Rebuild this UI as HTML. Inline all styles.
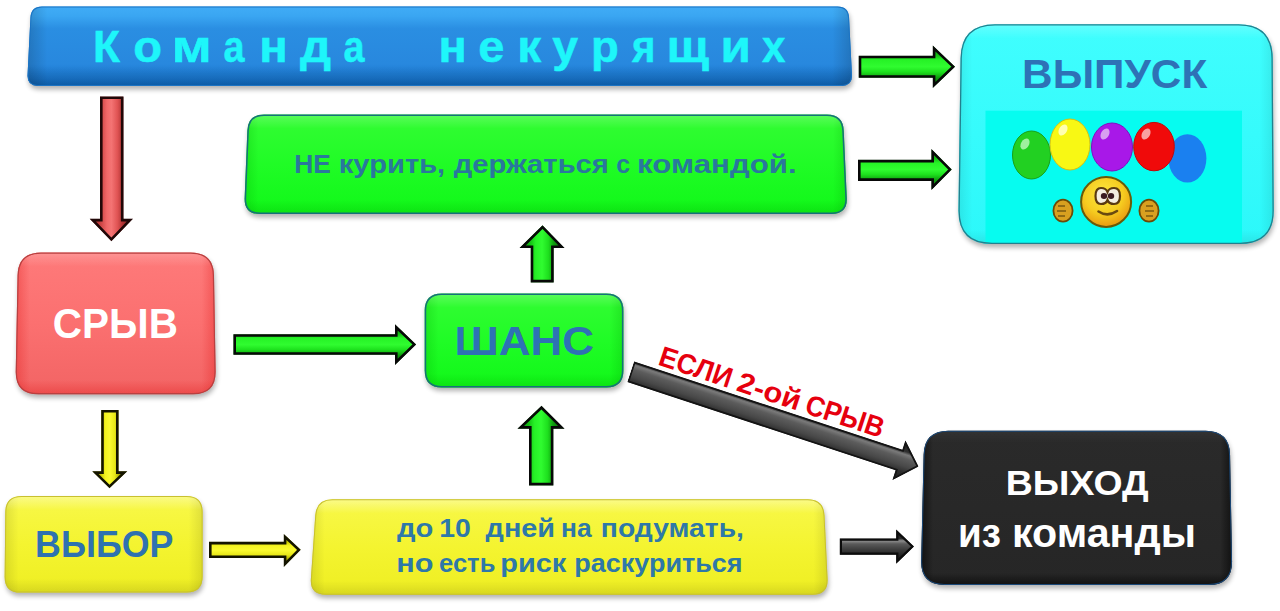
<!DOCTYPE html>
<html><head><meta charset="utf-8">
<style>
html,body{margin:0;padding:0;background:#fff;}
body{width:1280px;height:611px;overflow:hidden;position:relative;font-family:"Liberation Sans",sans-serif;}
svg{position:absolute;left:0;top:0;display:block;}
text{font-family:"Liberation Sans",sans-serif;font-weight:bold;}
</style></head><body>
<svg width="1280" height="611" viewBox="0 0 1280 611">
<defs>
  <filter id="blur3" x="-10%" y="-20%" width="120%" height="140%"><feGaussianBlur stdDeviation="2.5"/></filter>
  <filter id="blur1" x="-10%" y="-10%" width="120%" height="120%"><feGaussianBlur stdDeviation="0.6"/></filter>
  <linearGradient id="gBlue" x1="0" y1="0" x2="0" y2="1">
    <stop offset="0" stop-color="#40acf6"/>
    <stop offset="0.12" stop-color="#3aa6f2"/>
    <stop offset="0.28" stop-color="#2a8ee2"/>
    <stop offset="0.72" stop-color="#2888de"/>
    <stop offset="0.9" stop-color="#1a78d0"/>
    <stop offset="1" stop-color="#0e6cc4"/>
  </linearGradient>
  <linearGradient id="gGreenBox" x1="0" y1="0" x2="0" y2="1">
    <stop offset="0" stop-color="#34fc34"/>
    <stop offset="0.5" stop-color="#20fc26"/>
    <stop offset="1" stop-color="#10f818"/>
  </linearGradient>
  <linearGradient id="gCyan" x1="0" y1="0" x2="0" y2="1">
    <stop offset="0" stop-color="#40fefe"/>
    <stop offset="1" stop-color="#2cf8fa"/>
  </linearGradient>
  <linearGradient id="gRed" x1="0" y1="0" x2="0" y2="1">
    <stop offset="0" stop-color="#fe7a7a"/>
    <stop offset="0.5" stop-color="#fb7070"/>
    <stop offset="1" stop-color="#f26464"/>
  </linearGradient>
  <linearGradient id="gYellow" x1="0" y1="0" x2="0" y2="1">
    <stop offset="0" stop-color="#f8f84a"/>
    <stop offset="0.5" stop-color="#f4f430"/>
    <stop offset="1" stop-color="#eeee22"/>
  </linearGradient>
  <linearGradient id="gBlack" x1="0" y1="0" x2="0" y2="1">
    <stop offset="0" stop-color="#2a2a2a"/>
    <stop offset="1" stop-color="#262626"/>
  </linearGradient>
  <linearGradient id="aGreenH" x1="0" y1="0" x2="0" y2="1">
    <stop offset="0" stop-color="#0a7a0a"/>
    <stop offset="0.24" stop-color="#14c014"/>
    <stop offset="0.34" stop-color="#26f226"/>
    <stop offset="0.5" stop-color="#30fc30"/>
    <stop offset="0.62" stop-color="#1ee21e"/>
    <stop offset="0.76" stop-color="#0e9c0e"/>
    <stop offset="1" stop-color="#065a06"/>
  </linearGradient>
  <linearGradient id="aGreenV" x1="0" y1="0" x2="1" y2="0">
    <stop offset="0" stop-color="#0a7a0a"/>
    <stop offset="0.24" stop-color="#14c014"/>
    <stop offset="0.36" stop-color="#26f026"/>
    <stop offset="0.5" stop-color="#30fc30"/>
    <stop offset="0.64" stop-color="#1ee01e"/>
    <stop offset="0.76" stop-color="#0e9c0e"/>
    <stop offset="1" stop-color="#065a06"/>
  </linearGradient>
  <linearGradient id="aRedV" x1="0" y1="0" x2="1" y2="0">
    <stop offset="0" stop-color="#802020"/>
    <stop offset="0.24" stop-color="#c84040"/>
    <stop offset="0.4" stop-color="#f06868"/>
    <stop offset="0.5" stop-color="#f47474"/>
    <stop offset="0.64" stop-color="#e05454"/>
    <stop offset="0.76" stop-color="#b03434"/>
    <stop offset="1" stop-color="#701818"/>
  </linearGradient>
  <linearGradient id="aYelV" x1="0" y1="0" x2="1" y2="0">
    <stop offset="0" stop-color="#808000"/>
    <stop offset="0.24" stop-color="#c8c800"/>
    <stop offset="0.38" stop-color="#f4f420"/>
    <stop offset="0.5" stop-color="#fafa30"/>
    <stop offset="0.64" stop-color="#e8e818"/>
    <stop offset="0.76" stop-color="#b0b000"/>
    <stop offset="1" stop-color="#707000"/>
  </linearGradient>
  <linearGradient id="aYelH" x1="0" y1="0" x2="0" y2="1">
    <stop offset="0" stop-color="#808000"/>
    <stop offset="0.24" stop-color="#c8c800"/>
    <stop offset="0.36" stop-color="#f4f420"/>
    <stop offset="0.5" stop-color="#fafa30"/>
    <stop offset="0.64" stop-color="#e8e818"/>
    <stop offset="0.76" stop-color="#b0b000"/>
    <stop offset="1" stop-color="#707000"/>
  </linearGradient>
  <linearGradient id="aGrayH" x1="0" y1="0" x2="0" y2="1">
    <stop offset="0" stop-color="#111"/>
    <stop offset="0.26" stop-color="#2a2a2a"/>
    <stop offset="0.33" stop-color="#8c8c8c"/>
    <stop offset="0.42" stop-color="#5a5a5a"/>
    <stop offset="0.6" stop-color="#3a3a3a"/>
    <stop offset="0.76" stop-color="#222"/>
    <stop offset="1" stop-color="#111"/>
  </linearGradient>
  <linearGradient id="aGrayD" x1="0" y1="0" x2="0" y2="1">
    <stop offset="0" stop-color="#1a1a1a"/>
    <stop offset="0.25" stop-color="#303030"/>
    <stop offset="0.32" stop-color="#7a7a7a"/>
    <stop offset="0.42" stop-color="#5c5c5c"/>
    <stop offset="0.6" stop-color="#484848"/>
    <stop offset="0.75" stop-color="#2c2c2c"/>
    <stop offset="1" stop-color="#1a1a1a"/>
  </linearGradient>
</defs>

<path d="M42,6.5 H837.5 Q848.5,6.5 849.0534591194969,17.5 L851.9465408805031,75 Q852.5,86 841.5,86 H38 Q27,86 27.553459119496857,75 L30.446540880503143,17.5 Q31,6.5 42,6.5 Z" fill="#000" opacity="0.30" filter="url(#blur3)" transform="translate(1,3.5)"/><clipPath id="cBlue"><path d="M42,6.5 H837.5 Q848.5,6.5 849.0534591194969,17.5 L851.9465408805031,75 Q852.5,86 841.5,86 H38 Q27,86 27.553459119496857,75 L30.446540880503143,17.5 Q31,6.5 42,6.5 Z"/></clipPath><path d="M42,6.5 H837.5 Q848.5,6.5 849.0534591194969,17.5 L851.9465408805031,75 Q852.5,86 841.5,86 H38 Q27,86 27.553459119496857,75 L30.446540880503143,17.5 Q31,6.5 42,6.5 Z" fill="url(#gBlue)"/><g clip-path="url(#cBlue)"><linearGradient id="cBlueh" x1="0" y1="0" x2="1" y2="0"><stop offset="0" stop-color="#000" stop-opacity="0.16"/><stop offset="0.024" stop-color="#000" stop-opacity="0"/><stop offset="0.976" stop-color="#000" stop-opacity="0"/><stop offset="1" stop-color="#000" stop-opacity="0.16"/></linearGradient><linearGradient id="cBluev" x1="0" y1="0" x2="0" y2="1"><stop offset="0" stop-color="#fff" stop-opacity="0.0"/><stop offset="0.252" stop-color="#fff" stop-opacity="0"/><stop offset="0.748" stop-color="#000" stop-opacity="0"/><stop offset="1" stop-color="#000" stop-opacity="0.16"/></linearGradient><path d="M42,6.5 H837.5 Q848.5,6.5 849.0534591194969,17.5 L851.9465408805031,75 Q852.5,86 841.5,86 H38 Q27,86 27.553459119496857,75 L30.446540880503143,17.5 Q31,6.5 42,6.5 Z" fill="url(#cBlueh)"/><path d="M42,6.5 H837.5 Q848.5,6.5 849.0534591194969,17.5 L851.9465408805031,75 Q852.5,86 841.5,86 H38 Q27,86 27.553459119496857,75 L30.446540880503143,17.5 Q31,6.5 42,6.5 Z" fill="url(#cBluev)"/></g><path d="M42,6.5 H837.5 Q848.5,6.5 849.0534591194969,17.5 L851.9465408805031,75 Q852.5,86 841.5,86 H38 Q27,86 27.553459119496857,75 L30.446540880503143,17.5 Q31,6.5 42,6.5 Z" fill="none" stroke="#1c74c4" stroke-width="2.0" clip-path="url(#cBlue)"/>
<text x="93.09" y="61.9" font-size="44" fill="#1ef6fa" textLength="26.97" lengthAdjust="spacingAndGlyphs" stroke="#1ef6fa" stroke-width="0.5">К</text><text x="133.26" y="61.9" font-size="44" fill="#1ef6fa" textLength="28.76" lengthAdjust="spacingAndGlyphs" stroke="#1ef6fa" stroke-width="0.5">о</text><text x="171.49" y="61.9" font-size="44" fill="#1ef6fa" textLength="40.28" lengthAdjust="spacingAndGlyphs" stroke="#1ef6fa" stroke-width="0.5">м</text><text x="223.54" y="61.9" font-size="44" fill="#1ef6fa" textLength="21.02" lengthAdjust="spacingAndGlyphs" stroke="#1ef6fa" stroke-width="0.5">а</text><text x="259.29" y="61.9" font-size="44" fill="#1ef6fa" textLength="28.48" lengthAdjust="spacingAndGlyphs" stroke="#1ef6fa" stroke-width="0.5">н</text><text x="300.00" y="61.9" font-size="44" fill="#1ef6fa" textLength="31.04" lengthAdjust="spacingAndGlyphs" stroke="#1ef6fa" stroke-width="0.5">д</text><text x="343.54" y="61.9" font-size="44" fill="#1ef6fa" textLength="21.02" lengthAdjust="spacingAndGlyphs" stroke="#1ef6fa" stroke-width="0.5">а</text><text x="438.51" y="61.9" font-size="44" fill="#1ef6fa" textLength="28.22" lengthAdjust="spacingAndGlyphs" stroke="#1ef6fa" stroke-width="0.5">н</text><text x="478.17" y="61.9" font-size="44" fill="#1ef6fa" textLength="26.12" lengthAdjust="spacingAndGlyphs" stroke="#1ef6fa" stroke-width="0.5">е</text><text x="517.34" y="61.9" font-size="44" fill="#1ef6fa" textLength="23.94" lengthAdjust="spacingAndGlyphs" stroke="#1ef6fa" stroke-width="0.5">к</text><text x="552.34" y="61.9" font-size="44" fill="#1ef6fa" textLength="25.87" lengthAdjust="spacingAndGlyphs" stroke="#1ef6fa" stroke-width="0.5">у</text><text x="590.90" y="61.9" font-size="44" fill="#1ef6fa" textLength="27.75" lengthAdjust="spacingAndGlyphs" stroke="#1ef6fa" stroke-width="0.5">р</text><text x="632.00" y="61.9" font-size="44" fill="#1ef6fa" textLength="23.45" lengthAdjust="spacingAndGlyphs" stroke="#1ef6fa" stroke-width="0.5">я</text><text x="666.56" y="61.9" font-size="44" fill="#1ef6fa" textLength="42.58" lengthAdjust="spacingAndGlyphs" stroke="#1ef6fa" stroke-width="0.5">щ</text><text x="720.63" y="61.9" font-size="44" fill="#1ef6fa" textLength="30.41" lengthAdjust="spacingAndGlyphs" stroke="#1ef6fa" stroke-width="0.5">и</text><text x="762.04" y="61.9" font-size="44" fill="#1ef6fa" textLength="23.42" lengthAdjust="spacingAndGlyphs" stroke="#1ef6fa" stroke-width="0.5">х</text>
<clipPath id="ar1"><path d="M858.7,55.7 H932.8 V45.4 L955.1,66.7 L932.8,88.1 V77.8 H858.7 Z"/></clipPath><path d="M858.7,55.7 H932.8 V45.4 L955.1,66.7 L932.8,88.1 V77.8 H858.7 Z" fill="url(#aGreenH)" stroke="#080808" stroke-width="5.2" stroke-linejoin="miter" clip-path="url(#ar1)"/>
<path d="M264,114.5 H827 Q843,114.5 843.7236180904523,130.5 L846.7763819095477,198 Q847.5,214 831.5,214 H260 Q244,214 244.643216080402,198 L247.356783919598,130.5 Q248,114.5 264,114.5 Z" fill="#000" opacity="0.30" filter="url(#blur3)" transform="translate(1,3.5)"/><clipPath id="cNE"><path d="M264,114.5 H827 Q843,114.5 843.7236180904523,130.5 L846.7763819095477,198 Q847.5,214 831.5,214 H260 Q244,214 244.643216080402,198 L247.356783919598,130.5 Q248,114.5 264,114.5 Z"/></clipPath><path d="M264,114.5 H827 Q843,114.5 843.7236180904523,130.5 L846.7763819095477,198 Q847.5,214 831.5,214 H260 Q244,214 244.643216080402,198 L247.356783919598,130.5 Q248,114.5 264,114.5 Z" fill="url(#gGreenBox)"/><g clip-path="url(#cNE)"><linearGradient id="cNEh" x1="0" y1="0" x2="1" y2="0"><stop offset="0" stop-color="#00a000" stop-opacity="0.25"/><stop offset="0.023" stop-color="#00a000" stop-opacity="0"/><stop offset="0.977" stop-color="#00a000" stop-opacity="0"/><stop offset="1" stop-color="#00a000" stop-opacity="0.25"/></linearGradient><linearGradient id="cNEv" x1="0" y1="0" x2="0" y2="1"><stop offset="0" stop-color="#fff" stop-opacity="0.2"/><stop offset="0.141" stop-color="#fff" stop-opacity="0"/><stop offset="0.859" stop-color="#00a000" stop-opacity="0"/><stop offset="1" stop-color="#00a000" stop-opacity="0.25"/></linearGradient><path d="M264,114.5 H827 Q843,114.5 843.7236180904523,130.5 L846.7763819095477,198 Q847.5,214 831.5,214 H260 Q244,214 244.643216080402,198 L247.356783919598,130.5 Q248,114.5 264,114.5 Z" fill="url(#cNEh)"/><path d="M264,114.5 H827 Q843,114.5 843.7236180904523,130.5 L846.7763819095477,198 Q847.5,214 831.5,214 H260 Q244,214 244.643216080402,198 L247.356783919598,130.5 Q248,114.5 264,114.5 Z" fill="url(#cNEv)"/></g><path d="M264,114.5 H827 Q843,114.5 843.7236180904523,130.5 L846.7763819095477,198 Q847.5,214 831.5,214 H260 Q244,214 244.643216080402,198 L247.356783919598,130.5 Q248,114.5 264,114.5 Z" fill="none" stroke="#16707a" stroke-width="3.0" clip-path="url(#cNE)"/>
<text x="294.31" y="173" font-size="26.5" fill="#2a789c" textLength="36.61" lengthAdjust="spacingAndGlyphs" >НЕ</text><text x="338.70" y="173" font-size="26.5" fill="#2a789c" textLength="106.55" lengthAdjust="spacingAndGlyphs" >курить,</text><text x="453.80" y="173" font-size="26.5" fill="#2a789c" textLength="155.09" lengthAdjust="spacingAndGlyphs" >держаться</text><text x="616.26" y="173" font-size="26.5" fill="#2a789c" textLength="13.84" lengthAdjust="spacingAndGlyphs" >с</text><text x="637.14" y="173" font-size="26.5" fill="#2a789c" textLength="159.53" lengthAdjust="spacingAndGlyphs" >командой.</text>
<clipPath id="ar2"><path d="M858,159.8 H931.4 V149 L951.8,169.5 L931.4,190 V180.9 H858 Z"/></clipPath><path d="M858,159.8 H931.4 V149 L951.8,169.5 L931.4,190 V180.9 H858 Z" fill="url(#aGreenH)" stroke="#080808" stroke-width="5.2" stroke-linejoin="miter" clip-path="url(#ar2)"/>
<path d="M995,24.2 H1238.5 Q1272.5,24.2 1272.7320291173794,58.2 L1273.7679708826206,210 Q1274,244 1240,244 H992 Q958,244 958.4640582347589,210 L960.5359417652411,58.2 Q961,24.2 995,24.2 Z" fill="#000" opacity="0.30" filter="url(#blur3)" transform="translate(1,3.5)"/><clipPath id="cCy"><path d="M995,24.2 H1238.5 Q1272.5,24.2 1272.7320291173794,58.2 L1273.7679708826206,210 Q1274,244 1240,244 H992 Q958,244 958.4640582347589,210 L960.5359417652411,58.2 Q961,24.2 995,24.2 Z"/></clipPath><path d="M995,24.2 H1238.5 Q1272.5,24.2 1272.7320291173794,58.2 L1273.7679708826206,210 Q1274,244 1240,244 H992 Q958,244 958.4640582347589,210 L960.5359417652411,58.2 Q961,24.2 995,24.2 Z" fill="url(#gCyan)"/><g clip-path="url(#cCy)"><linearGradient id="cCyh" x1="0" y1="0" x2="1" y2="0"><stop offset="0" stop-color="#000" stop-opacity="0.08"/><stop offset="0.044" stop-color="#000" stop-opacity="0"/><stop offset="0.956" stop-color="#000" stop-opacity="0"/><stop offset="1" stop-color="#000" stop-opacity="0.08"/></linearGradient><linearGradient id="cCyv" x1="0" y1="0" x2="0" y2="1"><stop offset="0" stop-color="#fff" stop-opacity="0.2"/><stop offset="0.064" stop-color="#fff" stop-opacity="0"/><stop offset="0.936" stop-color="#000" stop-opacity="0"/><stop offset="1" stop-color="#000" stop-opacity="0.08"/></linearGradient><path d="M995,24.2 H1238.5 Q1272.5,24.2 1272.7320291173794,58.2 L1273.7679708826206,210 Q1274,244 1240,244 H992 Q958,244 958.4640582347589,210 L960.5359417652411,58.2 Q961,24.2 995,24.2 Z" fill="url(#cCyh)"/><path d="M995,24.2 H1238.5 Q1272.5,24.2 1272.7320291173794,58.2 L1273.7679708826206,210 Q1274,244 1240,244 H992 Q958,244 958.4640582347589,210 L960.5359417652411,58.2 Q961,24.2 995,24.2 Z" fill="url(#cCyv)"/></g><g clip-path="url(#cCy)"><rect x="985.5" y="110.7" width="256.5" height="140" fill="#06fcf0"/></g><path d="M995,24.2 H1238.5 Q1272.5,24.2 1272.7320291173794,58.2 L1273.7679708826206,210 Q1274,244 1240,244 H992 Q958,244 958.4640582347589,210 L960.5359417652411,58.2 Q961,24.2 995,24.2 Z" fill="none" stroke="#22808e" stroke-width="2.6" clip-path="url(#cCy)"/>
<text x="1022.10" y="88.2" font-size="41" fill="#2e72b6" textLength="185.17" lengthAdjust="spacingAndGlyphs" >ВЫПУСК</text>
<ellipse cx="1031.5" cy="155" rx="19" ry="24" fill="#22d022" stroke="#18a018" stroke-width="1"/>
<ellipse cx="1070" cy="144.5" rx="20" ry="25.5" fill="#f8f814" stroke="#d8c010" stroke-width="1"/>
<ellipse cx="1112" cy="147" rx="20.5" ry="24" fill="#a818e8" stroke="#8010c0" stroke-width="1"/>
<ellipse cx="1187.4" cy="158.4" rx="19" ry="24.2" fill="#1a80f0"/>
<ellipse cx="1154" cy="146.6" rx="20.3" ry="24.2" fill="#f00a0a" stroke="#c00808" stroke-width="1"/>
<ellipse cx="1025" cy="144" rx="4" ry="6" fill="#a0f0a0" transform="rotate(30 1025 144)"/>
<ellipse cx="1063" cy="130" rx="4" ry="6" fill="#ffffb0" transform="rotate(30 1063 130)"/>
<ellipse cx="1105" cy="134" rx="4" ry="6" fill="#d8a0f0" transform="rotate(30 1105 134)"/>
<ellipse cx="1146" cy="134" rx="4" ry="6" fill="#f8a0a0" transform="rotate(30 1146 134)"/>
<radialGradient id="gFace" cx="0.45" cy="0.35" r="0.65">
  <stop offset="0" stop-color="#fce840"/>
  <stop offset="0.6" stop-color="#f6cc20"/>
  <stop offset="1" stop-color="#e89a10"/>
</radialGradient>
<circle cx="1106.1" cy="201.9" r="25" fill="url(#gFace)" stroke="#6a5a08" stroke-width="2"/>
<path d="M1095.5,196 Q1095.5,188 1101,188 Q1106,188 1107.5,192 Q1109,188 1114,188 Q1120,188 1120,196 Q1120,204 1114,204 Q1109,204 1107.5,200 Q1106,204 1101,204 Q1095.5,204 1095.5,196 Z" fill="#f4eee0" stroke="#5a3a10" stroke-width="2.2"/>
<ellipse cx="1104" cy="196" rx="3.2" ry="3" fill="#3a1a20"/>
<ellipse cx="1111" cy="196" rx="3.2" ry="3" fill="#3a1a20"/>
<path d="M1098.5,211.5 Q1107.5,217.5 1117,211" stroke="#6a4a10" stroke-width="2.6" fill="none" stroke-linecap="round"/>
<ellipse cx="1063" cy="210.7" rx="9.6" ry="11" fill="#d8a020" stroke="#6a4a08" stroke-width="1.8"/>
<path d="M1058,206 h7 M1057,211 h9 M1058,216 h7" stroke="#7a5a10" stroke-width="1.5"/>
<ellipse cx="1149" cy="210.7" rx="9.6" ry="11" fill="#d8a020" stroke="#6a4a08" stroke-width="1.8"/>
<path d="M1146,206 h7 M1145,211 h9 M1146,216 h7" stroke="#7a5a10" stroke-width="1.5"/>

<clipPath id="ar3"><path d="M100,96.4 H123.5 V218.8 H133 L111.4,241.2 L89.7,218.8 H100 Z"/></clipPath><path d="M100,96.4 H123.5 V218.8 H133 L111.4,241.2 L89.7,218.8 H100 Z" fill="url(#aRedV)" stroke="#200808" stroke-width="5.2" stroke-linejoin="miter" clip-path="url(#ar3)"/>
<path d="M41,252.5 H190.6 Q213.6,252.5 213.98928067700987,275.5 L215.61071932299012,371.3 Q216,394.3 193,394.3 H38.3 Q15.3,394.3 15.737940761636107,371.3 L17.562059238363894,275.5 Q18,252.5 41,252.5 Z" fill="#000" opacity="0.30" filter="url(#blur3)" transform="translate(1,3.5)"/><clipPath id="cRed"><path d="M41,252.5 H190.6 Q213.6,252.5 213.98928067700987,275.5 L215.61071932299012,371.3 Q216,394.3 193,394.3 H38.3 Q15.3,394.3 15.737940761636107,371.3 L17.562059238363894,275.5 Q18,252.5 41,252.5 Z"/></clipPath><path d="M41,252.5 H190.6 Q213.6,252.5 213.98928067700987,275.5 L215.61071932299012,371.3 Q216,394.3 193,394.3 H38.3 Q15.3,394.3 15.737940761636107,371.3 L17.562059238363894,275.5 Q18,252.5 41,252.5 Z" fill="url(#gRed)"/><g clip-path="url(#cRed)"><linearGradient id="cRedh" x1="0" y1="0" x2="1" y2="0"><stop offset="0" stop-color="#e01818" stop-opacity="0.35"/><stop offset="0.070" stop-color="#e01818" stop-opacity="0"/><stop offset="0.930" stop-color="#e01818" stop-opacity="0"/><stop offset="1" stop-color="#e01818" stop-opacity="0.35"/></linearGradient><linearGradient id="cRedv" x1="0" y1="0" x2="0" y2="1"><stop offset="0" stop-color="#fff" stop-opacity="0.2"/><stop offset="0.099" stop-color="#fff" stop-opacity="0"/><stop offset="0.901" stop-color="#e01818" stop-opacity="0"/><stop offset="1" stop-color="#e01818" stop-opacity="0.35"/></linearGradient><path d="M41,252.5 H190.6 Q213.6,252.5 213.98928067700987,275.5 L215.61071932299012,371.3 Q216,394.3 193,394.3 H38.3 Q15.3,394.3 15.737940761636107,371.3 L17.562059238363894,275.5 Q18,252.5 41,252.5 Z" fill="url(#cRedh)"/><path d="M41,252.5 H190.6 Q213.6,252.5 213.98928067700987,275.5 L215.61071932299012,371.3 Q216,394.3 193,394.3 H38.3 Q15.3,394.3 15.737940761636107,371.3 L17.562059238363894,275.5 Q18,252.5 41,252.5 Z" fill="url(#cRedv)"/></g><path d="M41,252.5 H190.6 Q213.6,252.5 213.98928067700987,275.5 L215.61071932299012,371.3 Q216,394.3 193,394.3 H38.3 Q15.3,394.3 15.737940761636107,371.3 L17.562059238363894,275.5 Q18,252.5 41,252.5 Z" fill="none" stroke="#b84040" stroke-width="2.4" clip-path="url(#cRed)"/>
<text x="52.87" y="337.8" font-size="42" fill="#fff" textLength="125.06" lengthAdjust="spacingAndGlyphs" >СРЫВ</text>
<clipPath id="ar4"><path d="M233.4,334.2 H395 V324.3 L416.2,344.4 L395,365 V354.8 H233.4 Z"/></clipPath><path d="M233.4,334.2 H395 V324.3 L416.2,344.4 L395,365 V354.8 H233.4 Z" fill="url(#aGreenH)" stroke="#080808" stroke-width="5.2" stroke-linejoin="miter" clip-path="url(#ar4)"/>
<path d="M441.7,293.6 H606.4 Q623.4,293.6 623.4,310.6 L623.4,370.6 Q623.4,387.6 606.4,387.6 H441.7 Q424.7,387.6 424.7,370.6 L424.7,310.6 Q424.7,293.6 441.7,293.6 Z" fill="#000" opacity="0.30" filter="url(#blur3)" transform="translate(1,3.5)"/><clipPath id="cSh"><path d="M441.7,293.6 H606.4 Q623.4,293.6 623.4,310.6 L623.4,370.6 Q623.4,387.6 606.4,387.6 H441.7 Q424.7,387.6 424.7,370.6 L424.7,310.6 Q424.7,293.6 441.7,293.6 Z"/></clipPath><path d="M441.7,293.6 H606.4 Q623.4,293.6 623.4,310.6 L623.4,370.6 Q623.4,387.6 606.4,387.6 H441.7 Q424.7,387.6 424.7,370.6 L424.7,310.6 Q424.7,293.6 441.7,293.6 Z" fill="url(#gGreenBox)"/><g clip-path="url(#cSh)"><linearGradient id="cShh" x1="0" y1="0" x2="1" y2="0"><stop offset="0" stop-color="#00a000" stop-opacity="0.25"/><stop offset="0.070" stop-color="#00a000" stop-opacity="0"/><stop offset="0.930" stop-color="#00a000" stop-opacity="0"/><stop offset="1" stop-color="#00a000" stop-opacity="0.25"/></linearGradient><linearGradient id="cShv" x1="0" y1="0" x2="0" y2="1"><stop offset="0" stop-color="#fff" stop-opacity="0.2"/><stop offset="0.149" stop-color="#fff" stop-opacity="0"/><stop offset="0.851" stop-color="#00a000" stop-opacity="0"/><stop offset="1" stop-color="#00a000" stop-opacity="0.25"/></linearGradient><path d="M441.7,293.6 H606.4 Q623.4,293.6 623.4,310.6 L623.4,370.6 Q623.4,387.6 606.4,387.6 H441.7 Q424.7,387.6 424.7,370.6 L424.7,310.6 Q424.7,293.6 441.7,293.6 Z" fill="url(#cShh)"/><path d="M441.7,293.6 H606.4 Q623.4,293.6 623.4,310.6 L623.4,370.6 Q623.4,387.6 606.4,387.6 H441.7 Q424.7,387.6 424.7,370.6 L424.7,310.6 Q424.7,293.6 441.7,293.6 Z" fill="url(#cShv)"/></g><path d="M441.7,293.6 H606.4 Q623.4,293.6 623.4,310.6 L623.4,370.6 Q623.4,387.6 606.4,387.6 H441.7 Q424.7,387.6 424.7,370.6 L424.7,310.6 Q424.7,293.6 441.7,293.6 Z" fill="none" stroke="#16707a" stroke-width="3.0" clip-path="url(#cSh)"/>
<text x="454.42" y="355.3" font-size="41.5" fill="#2e72b4" textLength="139.71" lengthAdjust="spacingAndGlyphs" >ШАНС</text>
<clipPath id="ar5"><path d="M530.7,282.4 V248 H519.5 L542.5,225.3 L564.6,248 H553.7 V282.4 Z"/></clipPath><path d="M530.7,282.4 V248 H519.5 L542.5,225.3 L564.6,248 H553.7 V282.4 Z" fill="url(#aGreenV)" stroke="#080808" stroke-width="5.2" stroke-linejoin="miter" clip-path="url(#ar5)"/>
<clipPath id="ar6"><path d="M529,485.4 V428.7 H517.4 L541.5,405.8 L564.6,428.7 H553.4 V485.4 Z"/></clipPath><path d="M529,485.4 V428.7 H517.4 L541.5,405.8 L564.6,428.7 H553.4 V485.4 Z" fill="url(#aGreenV)" stroke="#080808" stroke-width="5.2" stroke-linejoin="miter" clip-path="url(#ar6)"/>
<clipPath id="ar7"><path d="M101.2,410 H118.6 V471.3 H127.3 L109.5,488.3 L92.2,471.3 H101.2 Z"/></clipPath><path d="M101.2,410 H118.6 V471.3 H127.3 L109.5,488.3 L92.2,471.3 H101.2 Z" fill="url(#aYelV)" stroke="#141400" stroke-width="5.2" stroke-linejoin="miter" clip-path="url(#ar7)"/>
<path d="M21.5,496 H186.6 Q202.6,496 202.6,512 L202.6,576.6 Q202.6,592.6 186.6,592.6 H20.5 Q4.5,592.6 4.665631469979296,576.6 L5.334368530020704,512 Q5.5,496 21.5,496 Z" fill="#000" opacity="0.30" filter="url(#blur3)" transform="translate(1,3.5)"/><clipPath id="cVy"><path d="M21.5,496 H186.6 Q202.6,496 202.6,512 L202.6,576.6 Q202.6,592.6 186.6,592.6 H20.5 Q4.5,592.6 4.665631469979296,576.6 L5.334368530020704,512 Q5.5,496 21.5,496 Z"/></clipPath><path d="M21.5,496 H186.6 Q202.6,496 202.6,512 L202.6,576.6 Q202.6,592.6 186.6,592.6 H20.5 Q4.5,592.6 4.665631469979296,576.6 L5.334368530020704,512 Q5.5,496 21.5,496 Z" fill="url(#gYellow)"/><g clip-path="url(#cVy)"><linearGradient id="cVyh" x1="0" y1="0" x2="1" y2="0"><stop offset="0" stop-color="#000" stop-opacity="0.1"/><stop offset="0.071" stop-color="#000" stop-opacity="0"/><stop offset="0.929" stop-color="#000" stop-opacity="0"/><stop offset="1" stop-color="#000" stop-opacity="0.1"/></linearGradient><linearGradient id="cVyv" x1="0" y1="0" x2="0" y2="1"><stop offset="0" stop-color="#fff" stop-opacity="0.35"/><stop offset="0.145" stop-color="#fff" stop-opacity="0"/><stop offset="0.855" stop-color="#000" stop-opacity="0"/><stop offset="1" stop-color="#000" stop-opacity="0.1"/></linearGradient><path d="M21.5,496 H186.6 Q202.6,496 202.6,512 L202.6,576.6 Q202.6,592.6 186.6,592.6 H20.5 Q4.5,592.6 4.665631469979296,576.6 L5.334368530020704,512 Q5.5,496 21.5,496 Z" fill="url(#cVyh)"/><path d="M21.5,496 H186.6 Q202.6,496 202.6,512 L202.6,576.6 Q202.6,592.6 186.6,592.6 H20.5 Q4.5,592.6 4.665631469979296,576.6 L5.334368530020704,512 Q5.5,496 21.5,496 Z" fill="url(#cVyv)"/></g><path d="M21.5,496 H186.6 Q202.6,496 202.6,512 L202.6,576.6 Q202.6,592.6 186.6,592.6 H20.5 Q4.5,592.6 4.665631469979296,576.6 L5.334368530020704,512 Q5.5,496 21.5,496 Z" fill="none" stroke="#c8c030" stroke-width="2" clip-path="url(#cVy)"/>
<text x="35.07" y="556.8" font-size="37" fill="#2e72b0" textLength="138.30" lengthAdjust="spacingAndGlyphs" >ВЫБОР</text>
<clipPath id="ar8"><path d="M209,541.8 H283.8 V533.9 L300.8,549.8 L283.8,567 V558 H209 Z"/></clipPath><path d="M209,541.8 H283.8 V533.9 L300.8,549.8 L283.8,567 V558 H209 Z" fill="url(#aYelH)" stroke="#141400" stroke-width="5.2" stroke-linejoin="miter" clip-path="url(#ar8)"/>
<path d="M332.4,499.3 H807.7 Q823.7,499.3 824.4706806282722,515.3 L827.5293193717278,578.8 Q828.3,594.8 812.3,594.8 H325.8 Q309.8,594.8 310.9057591623037,578.8 L315.2942408376963,515.3 Q316.4,499.3 332.4,499.3 Z" fill="#000" opacity="0.30" filter="url(#blur3)" transform="translate(1,3.5)"/><clipPath id="cY2"><path d="M332.4,499.3 H807.7 Q823.7,499.3 824.4706806282722,515.3 L827.5293193717278,578.8 Q828.3,594.8 812.3,594.8 H325.8 Q309.8,594.8 310.9057591623037,578.8 L315.2942408376963,515.3 Q316.4,499.3 332.4,499.3 Z"/></clipPath><path d="M332.4,499.3 H807.7 Q823.7,499.3 824.4706806282722,515.3 L827.5293193717278,578.8 Q828.3,594.8 812.3,594.8 H325.8 Q309.8,594.8 310.9057591623037,578.8 L315.2942408376963,515.3 Q316.4,499.3 332.4,499.3 Z" fill="url(#gYellow)"/><g clip-path="url(#cY2)"><linearGradient id="cY2h" x1="0" y1="0" x2="1" y2="0"><stop offset="0" stop-color="#000" stop-opacity="0.1"/><stop offset="0.027" stop-color="#000" stop-opacity="0"/><stop offset="0.973" stop-color="#000" stop-opacity="0"/><stop offset="1" stop-color="#000" stop-opacity="0.1"/></linearGradient><linearGradient id="cY2v" x1="0" y1="0" x2="0" y2="1"><stop offset="0" stop-color="#fff" stop-opacity="0.35"/><stop offset="0.147" stop-color="#fff" stop-opacity="0"/><stop offset="0.853" stop-color="#000" stop-opacity="0"/><stop offset="1" stop-color="#000" stop-opacity="0.1"/></linearGradient><path d="M332.4,499.3 H807.7 Q823.7,499.3 824.4706806282722,515.3 L827.5293193717278,578.8 Q828.3,594.8 812.3,594.8 H325.8 Q309.8,594.8 310.9057591623037,578.8 L315.2942408376963,515.3 Q316.4,499.3 332.4,499.3 Z" fill="url(#cY2h)"/><path d="M332.4,499.3 H807.7 Q823.7,499.3 824.4706806282722,515.3 L827.5293193717278,578.8 Q828.3,594.8 812.3,594.8 H325.8 Q309.8,594.8 310.9057591623037,578.8 L315.2942408376963,515.3 Q316.4,499.3 332.4,499.3 Z" fill="url(#cY2v)"/></g><path d="M332.4,499.3 H807.7 Q823.7,499.3 824.4706806282722,515.3 L827.5293193717278,578.8 Q828.3,594.8 812.3,594.8 H325.8 Q309.8,594.8 310.9057591623037,578.8 L315.2942408376963,515.3 Q316.4,499.3 332.4,499.3 Z" fill="none" stroke="#c8c030" stroke-width="2" clip-path="url(#cY2)"/>
<text x="397.00" y="536.6" font-size="26.5" fill="#2e78a8" textLength="36.32" lengthAdjust="spacingAndGlyphs" >до</text><text x="439.16" y="536.6" font-size="26.5" fill="#2e78a8" textLength="31.56" lengthAdjust="spacingAndGlyphs" >10</text><text x="485.60" y="536.6" font-size="26.5" fill="#2e78a8" textLength="69.52" lengthAdjust="spacingAndGlyphs" >дней</text><text x="561.01" y="536.6" font-size="26.5" fill="#2e78a8" textLength="30.64" lengthAdjust="spacingAndGlyphs" >на</text><text x="600.86" y="536.6" font-size="26.5" fill="#2e78a8" textLength="143.09" lengthAdjust="spacingAndGlyphs" >подумать,</text>
<text x="396.39" y="572.2" font-size="26.5" fill="#2e78a8" textLength="37.20" lengthAdjust="spacingAndGlyphs" >но</text><text x="439.04" y="572.2" font-size="26.5" fill="#2e78a8" textLength="56.32" lengthAdjust="spacingAndGlyphs" >есть</text><text x="500.32" y="572.2" font-size="26.5" fill="#2e78a8" textLength="66.01" lengthAdjust="spacingAndGlyphs" >риск</text><text x="574.26" y="572.2" font-size="26.5" fill="#2e78a8" textLength="168.35" lengthAdjust="spacingAndGlyphs" >раскуриться</text>
<clipPath id="ar9"><path d="M839.8,538.6 H896.2 V529.6 L914,546.5 L896.2,563.7 V554.7 H839.8 Z"/></clipPath><path d="M839.8,538.6 H896.2 V529.6 L914,546.5 L896.2,563.7 V554.7 H839.8 Z" fill="url(#aGrayH)" stroke="#0c0c0c" stroke-width="4.4" stroke-linejoin="miter" clip-path="url(#ar9)"/>
<g transform="translate(630.7,371.7) rotate(18.23)"><clipPath id="ar10"><path d="M0,-10.8 H282.5 V-20.5 L303,0 L282.5,21 V10.8 H0 Z"/></clipPath><path d="M0,-10.8 H282.5 V-20.5 L303,0 L282.5,21 V10.8 H0 Z" fill="url(#aGrayD)" stroke="#141414" stroke-width="3.6" stroke-linejoin="miter" clip-path="url(#ar10)"/></g>
<g transform="translate(657.2,364.6) rotate(18.2)"><text x="-0.20" y="0" font-size="28.5" fill="#e6000e" textLength="75.51" lengthAdjust="spacingAndGlyphs" >ЕСЛИ</text><text x="82.21" y="0" font-size="28.5" fill="#e6000e" textLength="65.46" lengthAdjust="spacingAndGlyphs" >2-ой</text><text x="153.88" y="0" font-size="28.5" fill="#e6000e" textLength="81.11" lengthAdjust="spacingAndGlyphs" >СРЫВ</text></g>
<path d="M948.2,430.8 H1205.6 Q1229.6,430.8 1230.0513618677041,454.8 L1232.0486381322958,561 Q1232.5,585 1208.5,585 H944.6 Q920.6,585 921.1603112840468,561 L923.6396887159533,454.8 Q924.2,430.8 948.2,430.8 Z" fill="#000" opacity="0.30" filter="url(#blur3)" transform="translate(1,3.5)"/><clipPath id="cBk"><path d="M948.2,430.8 H1205.6 Q1229.6,430.8 1230.0513618677041,454.8 L1232.0486381322958,561 Q1232.5,585 1208.5,585 H944.6 Q920.6,585 921.1603112840468,561 L923.6396887159533,454.8 Q924.2,430.8 948.2,430.8 Z"/></clipPath><path d="M948.2,430.8 H1205.6 Q1229.6,430.8 1230.0513618677041,454.8 L1232.0486381322958,561 Q1232.5,585 1208.5,585 H944.6 Q920.6,585 921.1603112840468,561 L923.6396887159533,454.8 Q924.2,430.8 948.2,430.8 Z" fill="url(#gBlack)"/><g clip-path="url(#cBk)"><linearGradient id="cBkh" x1="0" y1="0" x2="1" y2="0"><stop offset="0" stop-color="#000" stop-opacity="0.55"/><stop offset="0.038" stop-color="#000" stop-opacity="0"/><stop offset="0.962" stop-color="#000" stop-opacity="0"/><stop offset="1" stop-color="#000" stop-opacity="0.55"/></linearGradient><linearGradient id="cBkv" x1="0" y1="0" x2="0" y2="1"><stop offset="0" stop-color="#fff" stop-opacity="0.04"/><stop offset="0.078" stop-color="#fff" stop-opacity="0"/><stop offset="0.922" stop-color="#000" stop-opacity="0"/><stop offset="1" stop-color="#000" stop-opacity="0.55"/></linearGradient><path d="M948.2,430.8 H1205.6 Q1229.6,430.8 1230.0513618677041,454.8 L1232.0486381322958,561 Q1232.5,585 1208.5,585 H944.6 Q920.6,585 921.1603112840468,561 L923.6396887159533,454.8 Q924.2,430.8 948.2,430.8 Z" fill="url(#cBkh)"/><path d="M948.2,430.8 H1205.6 Q1229.6,430.8 1230.0513618677041,454.8 L1232.0486381322958,561 Q1232.5,585 1208.5,585 H944.6 Q920.6,585 921.1603112840468,561 L923.6396887159533,454.8 Q924.2,430.8 948.2,430.8 Z" fill="url(#cBkv)"/></g><path d="M948.2,430.8 H1205.6 Q1229.6,430.8 1230.0513618677041,454.8 L1232.0486381322958,561 Q1232.5,585 1208.5,585 H944.6 Q920.6,585 921.1603112840468,561 L923.6396887159533,454.8 Q924.2,430.8 948.2,430.8 Z" fill="none" stroke="#1a4878" stroke-width="2.0" clip-path="url(#cBk)"/>
<text x="1005.80" y="494.8" font-size="35.7" fill="#fff" textLength="142.82" lengthAdjust="spacingAndGlyphs" >ВЫХОД</text>
<text x="958.04" y="546.6" font-size="40.5" fill="#fff" textLength="42.94" lengthAdjust="spacingAndGlyphs" >из</text><text x="1011.95" y="546.6" font-size="40.5" fill="#fff" textLength="183.96" lengthAdjust="spacingAndGlyphs" >команды</text>
</svg>
</body></html>
